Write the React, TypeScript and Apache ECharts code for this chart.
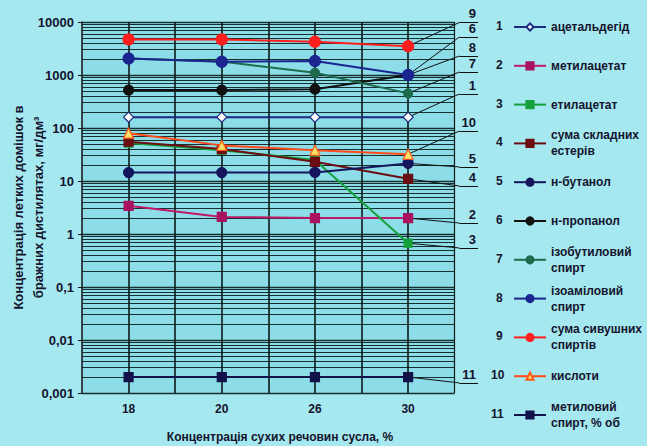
import React, { useEffect, useRef } from 'react';
import * as echarts from 'echarts';

// ---- data ----
const categories = ['18', '20', '26', '30'];
const seriesNames = [
  'ацетальдегід',
  'метилацетат',
  'етилацетат',
  'сума складних естерів',
  'н-бутанол',
  'н-пропанол',
  'ізобутиловий спирт',
  'ізоаміловий спирт',
  'сума сивушних спиртів',
  'кислоти',
  'метиловий спирт, % об',
];
const legendLabels = [
  'ацетальдегід',
  'метилацетат',
  'етилацетат',
  'сума складних\nестерів',
  'н-бутанол',
  'н-пропанол',
  'ізобутиловий\nспирт',
  'ізоаміловий\nспирт',
  'сума сивушних\nспиртів',
  'кислоти',
  'метиловий\nспирт, % об',
];
const acetaldehyde = [160, 160, 160, 160];
const methylAcetate = [3.4, 2.1, 2.0, 2.0];
const ethylAcetate = [52, 38, 25, 0.67];
const esterSum = [55, 40, 23, 11];
const nButanol = [14.4, 14.4, 14.5, 21.5];
const nPropanol = [520, 520, 540, 1000];
const isobutanol = [2050, 1800, 1100, 450];
const isoamyl = [2050, 1780, 1840, 1000];
const fuselSum = [4700, 4700, 4250, 3500];
const acids = [80, 47, 38, 32];
const methanol = [0.002, 0.002, 0.002, 0.002];
const seriesValues = [
  acetaldehyde, methylAcetate, ethylAcetate, esterSum, nButanol, nPropanol,
  isobutanol, isoamyl, fuselSum, acids, methanol,
];
// level (on the y scale) of each series' numbered call-out at the right
const calloutLevels = [438, 1.61, 0.545, 8.05, 18.4, 5210, 1140, 2280, 9800, 87.7, 0.00155];
const decadeTicks = [0.001, 0.01, 0.1, 1, 10, 100, 1000, 10000];
const minorSteps = [2, 3, 4, 5, 6, 7, 8, 9];

const FONT = '"Liberation Sans", Arial, sans-serif';
const TXT = '#14142e';
const GRIDC = '#15302f';

const styles = [
  { color: '#1c2a80', symbol: 'diamond', size: 10, fill: '#ffffff', line: '#1c2a80' },
  { color: '#a8125e', symbol: 'rect', size: 9, fill: '#a8125e', line: '#c0186a' },
  { color: '#14a03a', symbol: 'rect', size: 8, fill: '#14a03a', line: '#14a03a' },
  { color: '#6b0d12', symbol: 'rect', size: 9, fill: '#6b0d12', line: '#6b0d12' },
  { color: '#15155e', symbol: 'circle', size: 10, fill: '#15155e', line: '#15155e' },
  { color: '#111111', symbol: 'circle', size: 10, fill: '#111111', line: '#111111' },
  { color: '#1d6b4d', symbol: 'circle', size: 9, fill: '#1d6b4d', line: '#1d6b4d' },
  { color: '#1a2590', symbol: 'circle', size: 11, fill: '#1a2590', line: '#1a2590' },
  { color: '#ff1e1e', symbol: 'circle', size: 11, fill: '#ff1e1e', line: '#ff1e1e' },
  { color: '#ff5a1a', symbol: 'triangle', size: 10, fill: '#ffe066', line: '#ff4a1a' },
  { color: '#12124a', symbol: 'rect', size: 9, fill: '#12124a', line: '#12124a' },
];

export default function App() {
  const ref = useRef<HTMLDivElement>(null);
  useEffect(() => {
    const chart = echarts.init(ref.current!, null, { renderer: 'svg' });
    const xPos = (i: number) => 2 * i + 1;
    const xPlotMax = 2 * categories.length;
    const xCallout = xPlotMax + 0.1;
    const xEnd = xPlotMax + 0.5;
    const yMin = decadeTicks[0];
    const yMax = decadeTicks[decadeTicks.length - 1];

    const gridLines: any[] = [];
    decadeTicks.forEach((d) => {
      gridLines.push([
        { coord: [0, d], lineStyle: { color: GRIDC, width: 1.3, type: 'solid' } },
        { coord: [xPlotMax, d] },
      ]);
      if (d < yMax) {
        minorSteps.forEach((m) => {
          const v = m * d;
          gridLines.push([
            { coord: [0, v], lineStyle: { color: GRIDC, width: 1, type: 'solid' } },
            { coord: [xPlotMax, v] },
          ]);
        });
      }
    });
    for (let x = 1; x <= xPlotMax; x++) {
      gridLines.push([
        { coord: [x, yMin], lineStyle: { color: '#0d1a1a', width: x === xPlotMax ? 1.2 : 1.6, type: 'solid' } },
        { coord: [x, yMax] },
      ]);
    }

    const helper: any = {
      type: 'line',
      name: '__grid',
      data: [],
      silent: true,
      z: 1,
      markArea: {
        silent: true,
        z: 0,
        itemStyle: { color: '#8cdde7' },
        data: [[{ coord: [0, yMin] }, { coord: [xPlotMax, yMax] }]],
      },
      markLine: {
        silent: true,
        z: 1,
        symbol: 'none',
        label: { show: false },
        emphasis: { disabled: true },
        data: gridLines,
      },
    };

    const dataSeries = seriesNames.map((name, k) => {
      const s = styles[k];
      const vals = seriesValues[k];
      const last = vals[vals.length - 1];
      const lvl = calloutLevels[k];
      const numLabel = {
        show: true,
        formatter: String(k + 1),
        position: 'insideEndTop',
        distance: 2,
        color: TXT,
        fontFamily: FONT,
        fontWeight: 'bold',
        fontSize: 13,
      };
      return {
        type: 'line',
        name,
        z: 3 + k,
        data: vals.map((v, i) => [xPos(i), v]),
        symbol: s.symbol,
        symbolSize: s.size,
        showSymbol: true,
        lineStyle: { color: s.line, width: 2 },
        itemStyle: { color: s.fill, borderColor: s.color, borderWidth: 1.2 },
        emphasis: { disabled: true },
        markLine: {
          silent: true,
          z: 2,
          symbol: 'none',
          label: { show: false },
          emphasis: { disabled: true },
          lineStyle: { color: '#111', width: 1, type: 'solid' },
          data: [
            [{ coord: [xPos(vals.length - 1), last] }, { coord: [xCallout, lvl] }],
            [
              { coord: [xCallout, lvl], label: numLabel },
              { coord: [xEnd, lvl], label: numLabel },
            ],
          ],
        },
      };
    });

    const legendData = seriesNames.map((name, k) => ({
      name,
      textStyle: {
        padding: legendLabels[k].includes('\n') ? [16, 0, 0, 0] : [16, 0, 16, 0],
        backgroundColor: 'transparent',
      },
    }));

    const numberTexts = seriesNames.map((_, k) => ({
      type: 'text',
      left: k >= 9 ? 491 : 496,
      top: 20 + k * 38.8,
      style: {
        text: String(k + 1),
        fill: TXT,
        font: `bold 12px ${FONT}`,
      },
    }));

    const option: any = {
      animation: false,
      backgroundColor: '#a6e8ef',
      textStyle: { fontFamily: FONT },
      grid: { left: 82, top: 22, right: 169, bottom: 53, containLabel: false, outerBoundsMode: 'none' },
      xAxis: {
        type: 'value',
        min: 0,
        max: xEnd,
        interval: 1,
        axisLine: { show: false },
        axisTick: { show: false },
        splitLine: { show: false },
        axisLabel: {
          margin: 10,
          color: TXT,
          fontWeight: 'bold',
          fontSize: 12,
          fontFamily: FONT,
          formatter: (v: number) => {
            const i = (v - 1) / 2;
            return Number.isInteger(i) && i >= 0 && i < categories.length ? categories[i] : '';
          },
        },
        name: 'Концентрація сухих речовин сусла, %',
        nameLocation: 'middle',
        nameGap: 38,
        nameMoveOverlap: false,
        nameTextStyle: { color: TXT, fontWeight: 'bold', fontSize: 12, fontFamily: FONT },
      },
      yAxis: {
        type: 'log',
        logBase: 10,
        min: yMin,
        max: yMax,
        splitNumber: 7,
        axisLine: { show: true, lineStyle: { color: '#111', width: 1.5 } },
        axisTick: { show: true, length: 4, lineStyle: { color: '#111' } },
        splitLine: { show: false },
        minorTick: { show: false },
        axisLabel: {
          margin: 8,
          color: TXT,
          fontWeight: 'bold',
          fontSize: 13,
          fontFamily: FONT,
          formatter: (v: number) => String(v).replace('.', ','),
        },
        name: 'Концентрація летких домішок в\nбражних дистилятах, мг/дм³',
        nameLocation: 'middle',
        nameRotate: 90,
        nameGap: 34,
        nameMoveOverlap: false,
        nameTextStyle: { color: TXT, fontWeight: 'bold', fontSize: 13, lineHeight: 20, fontFamily: FONT },
      },
      legend: {
        orient: 'vertical',
        left: 513,
        top: 3,
        padding: 0,
        itemGap: -9.2,
        itemWidth: 32,
        itemHeight: 9,
        selectedMode: false,
        formatter: (name: string) => legendLabels[seriesNames.indexOf(name)],
        textStyle: { color: TXT, fontWeight: 'bold', fontSize: 12, lineHeight: 16, fontFamily: FONT },
        data: legendData,
      },
      graphic: numberTexts,
      series: [helper, ...dataSeries],
    };
    chart.setOption(option);
    return () => chart.dispose();
  }, []);
  return <div ref={ref} style={{ position: 'absolute', left: 0, top: 0, width: 647, height: 446 }} />;
}
